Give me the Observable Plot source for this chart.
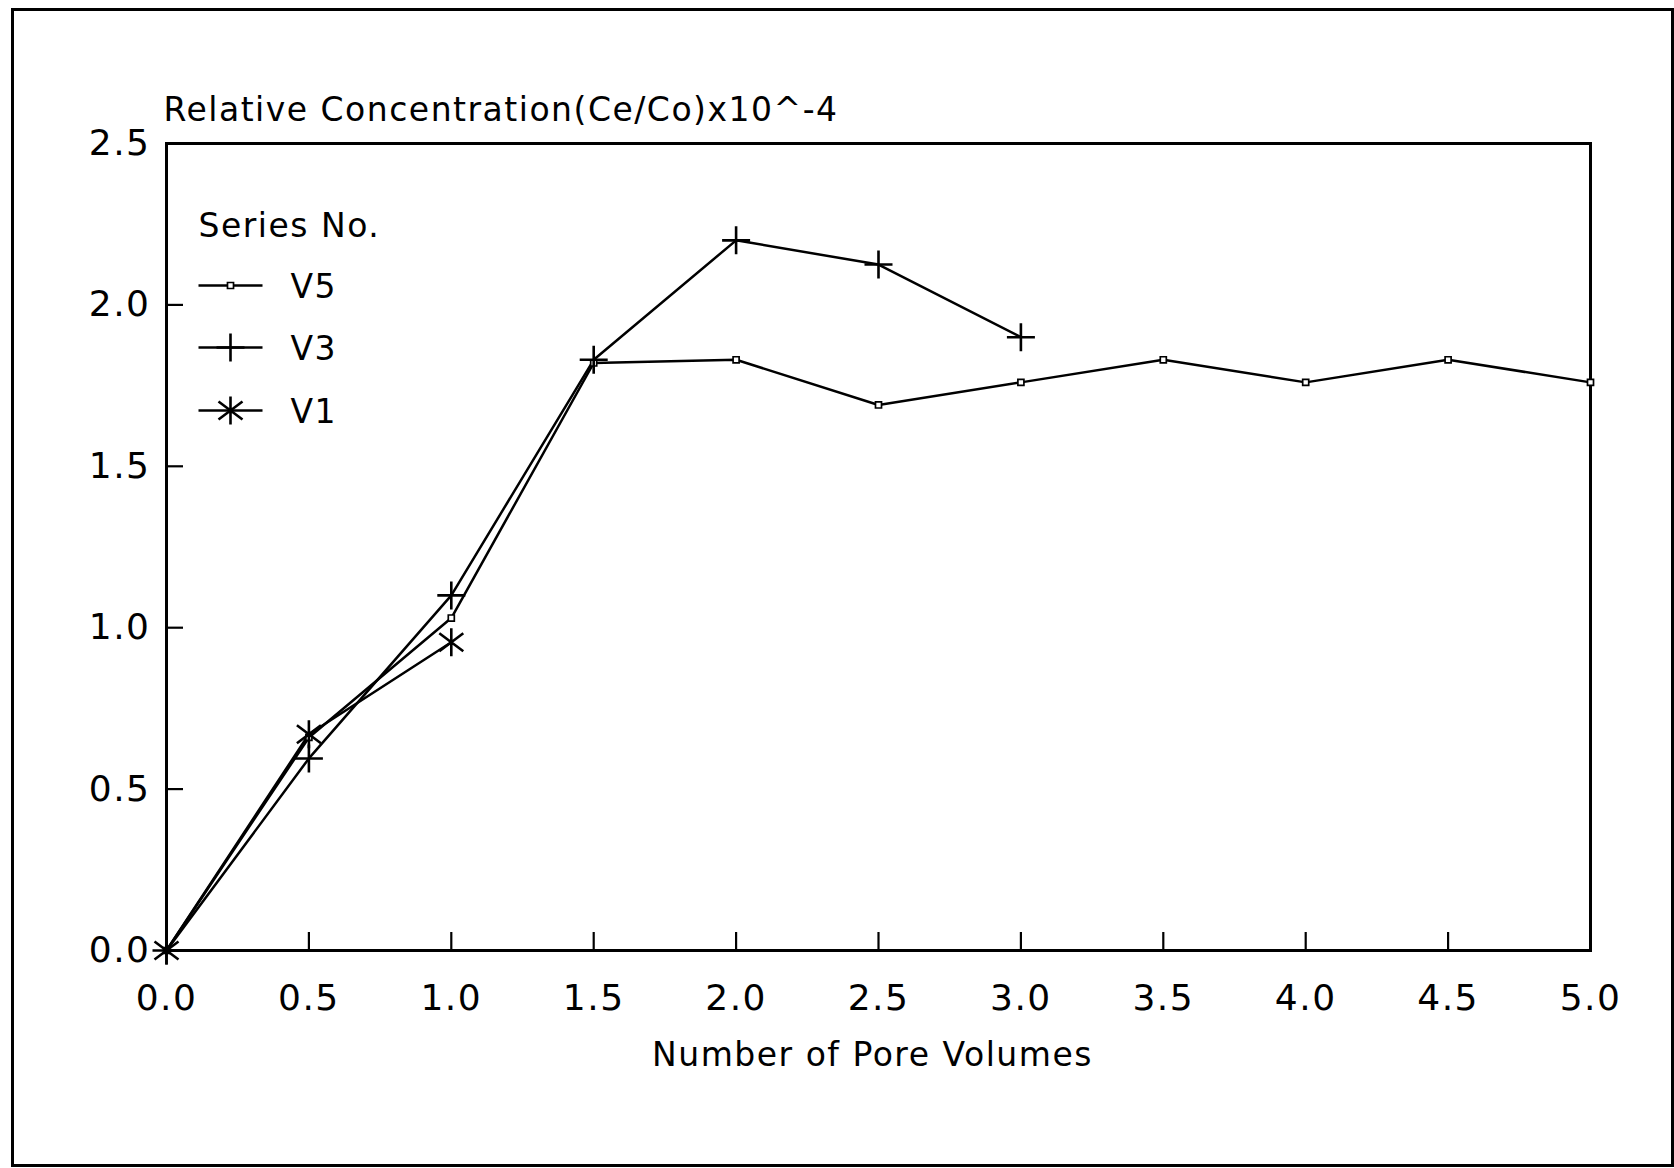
<!DOCTYPE html>
<html>
<head>
<meta charset="utf-8">
<script src="https://cdn.jsdelivr.net/npm/d3@7"></script>
<script src="https://cdn.jsdelivr.net/npm/@observablehq/plot@0.6"></script>
<style>
  html, body { margin: 0; padding: 0; background: #fff; }
  #wrap { position: relative; width: 1674px; height: 1168px; overflow: hidden; }
  #outer { position: absolute; left: 11px; top: 8px; width: 1663px; height: 1159px;
           box-sizing: border-box; border: 3px solid #000; pointer-events: none; }
  #wrap svg { position: absolute; left: 0; top: 0; }
</style>
</head>
<body>
<div id="wrap"><div id="outer"></div></div>
<script>
// ---- data ----
const poreVolumes = [0, 0.5, 1.0, 1.5, 2.0, 2.5, 3.0, 3.5, 4.0, 4.5, 5.0];
const seriesV5 = [0, 0.66, 1.03, 1.82, 1.83, 1.69, 1.76, 1.83, 1.76, 1.83, 1.76];
const seriesV3 = [0, 0.595, 1.10, 1.83, 2.20, 2.125, 1.90];
const seriesV1 = [0, 0.67, 0.955];
const seriesNames = ["V5", "V3", "V1"];
const xTickValues = [0, 0.5, 1.0, 1.5, 2.0, 2.5, 3.0, 3.5, 4.0, 4.5, 5.0];
const yTickValues = [0, 0.5, 1.0, 1.5, 2.0, 2.5];
const titleText = "Relative Concentration(Ce/Co)x10^-4";
const xLabelText = "Number of Pore Volumes";
const legendTitle = "Series No.";

// ---- build tables ----
const toRows = (vals) => vals.map((y, i) => ({x: poreVolumes[i], y}));
const data = {V5: toRows(seriesV5), V3: toRows(seriesV3), V1: toRows(seriesV1)};

// ---- symbols ----
const plusSym = {draw(ctx) { const r = 14; ctx.moveTo(-r, 0); ctx.lineTo(r, 0); ctx.moveTo(0, -r); ctx.lineTo(0, r); }};
const starSym = {draw(ctx) {
  const r = 14, a = 12, b = 9;
  ctx.moveTo(0, -r); ctx.lineTo(0, r);
  ctx.moveTo(-a, -b); ctx.lineTo(a, b);
  ctx.moveTo(-a, b); ctx.lineTo(a, -b);
}};
const legendLineSym = {draw(ctx) { ctx.moveTo(-32, 0); ctx.lineTo(32, 0); }};

const symStyles = {
  V5: {symbol: "square", r: 3.4, fill: "white", stroke: "black", strokeWidth: 1.7},
  V3: {symbol: plusSym, r: 10, fill: "none", stroke: "black", strokeWidth: 2.6},
  V1: {symbol: starSym, r: 10, fill: "none", stroke: "black", strokeWidth: 2.6}
};

const W = 1674, H = 1168;
const mT = 143, mL = 166, mR = 84, mB = 218;
const innerW = W - mL - mR, innerH = H - mT - mB;
const fmt = d3.format(".1f");
const fs = 33;

const marks = [];
// frame and inward ticks
marks.push(Plot.frame({stroke: "black", strokeWidth: 3}));
marks.push(Plot.tickX(xTickValues, {x: d => d, insetTop: innerH - 18, stroke: "black", strokeWidth: 2.2}));
marks.push(Plot.tickY(yTickValues, {y: d => d, insetRight: innerW - 17, stroke: "black", strokeWidth: 2.2}));
// tick labels
marks.push(Plot.axisX(xTickValues, {anchor: "bottom", tickSize: 0, tickPadding: 34, tickFormat: fmt, fontSize: 36, label: null}));
marks.push(Plot.axisY(yTickValues, {anchor: "left", tickSize: 0, tickPadding: 16, tickFormat: fmt, fontSize: 36, label: null}));

// series lines and markers
for (const name of ["V1", "V3", "V5"]) {
  marks.push(Plot.line(data[name], {x: "x", y: "y", stroke: "black", strokeWidth: 2.5}));
}
for (const name of ["V5", "V3", "V1"]) {
  marks.push(Plot.dot(data[name], {x: "x", y: "y", ...symStyles[name]}));
}

// title and axis label
marks.push(Plot.text([titleText], {text: d => d, frameAnchor: "top-left", textAnchor: "start", lineAnchor: "bottom", dx: -3, dy: -23, fontSize: fs}));
marks.push(Plot.text([xLabelText], {text: d => d, frameAnchor: "bottom", textAnchor: "middle", lineAnchor: "bottom", dx: -6, dy: 115, fontSize: fs}));

// legend inside the plot
marks.push(Plot.text([legendTitle], {text: d => d, frameAnchor: "top-left", textAnchor: "start", lineAnchor: "bottom", dx: 32, dy: 93, fontSize: fs}));
const legendDy = [142, 204, 267];
seriesNames.forEach((name, i) => {
  marks.push(Plot.dot([name], {frameAnchor: "top-left", dx: 64, dy: legendDy[i], symbol: legendLineSym, r: 10, fill: "none", stroke: "black", strokeWidth: 2.3}));
  marks.push(Plot.dot([name], {frameAnchor: "top-left", dx: 64, dy: legendDy[i], ...symStyles[name]}));
  marks.push(Plot.text([name], {text: d => d, frameAnchor: "top-left", textAnchor: "start", lineAnchor: "middle", dx: 124, dy: legendDy[i] + 2, fontSize: fs}));
});

const chart = Plot.plot({
  width: W,
  height: H,
  marginTop: mT,
  marginLeft: mL,
  marginRight: mR,
  marginBottom: mB,
  x: {domain: [0, 5]},
  y: {domain: [0, 2.5]},
  style: {fontFamily: "DejaVu Sans", color: "black", background: "transparent", letterSpacing: "1.5px"},
  marks
});
document.getElementById("wrap").appendChild(chart);
</script>
</body>
</html>
